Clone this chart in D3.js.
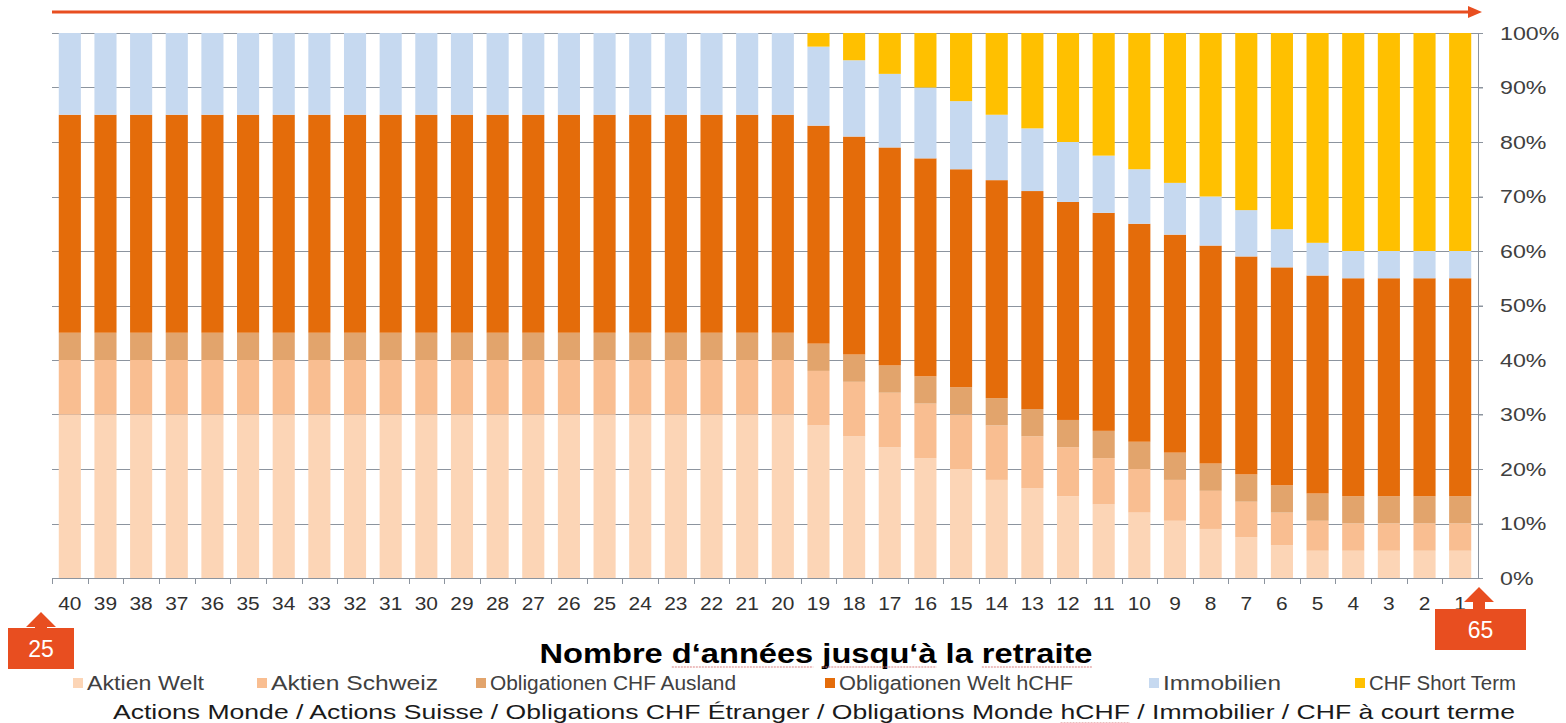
<!DOCTYPE html>
<html>
<head>
<meta charset="utf-8">
<script src="https://cdn.jsdelivr.net/npm/d3@7"></script>
<style>
  html, body { margin: 0; padding: 0; background: #fff; }
  svg { display: block; font-family: "Liberation Sans", Arial, sans-serif; }
</style>
</head>
<body>
<svg width="1566" height="723"></svg>
<script>
// années jusqu'à la retraite (40 -> 1)
const years = [40, 39, 38, 37, 36, 35, 34, 33, 32, 31, 30, 29, 28, 27, 26, 25, 24, 23, 22, 21,
  20, 19, 18, 17, 16, 15, 14, 13, 12, 11, 10, 9, 8, 7, 6, 5, 4, 3, 2, 1];

// parts en %, dans l'ordre des années ci-dessus
const aktienWelt = [30, 30, 30, 30, 30, 30, 30, 30, 30, 30, 30, 30, 30, 30, 30, 30, 30, 30, 30, 30,
  30, 28, 26, 24, 22, 20, 18, 16.5, 15, 13.5, 12, 10.5, 9, 7.5, 6, 5, 5, 5, 5, 5];
const aktienSchweiz = [10, 10, 10, 10, 10, 10, 10, 10, 10, 10, 10, 10, 10, 10, 10, 10, 10, 10, 10, 10,
  10, 10, 10, 10, 10, 10, 10, 9.5, 9, 8.5, 8, 7.5, 7, 6.5, 6, 5.5, 5, 5, 5, 5];
const oblChfAusland = [5, 5, 5, 5, 5, 5, 5, 5, 5, 5, 5, 5, 5, 5, 5, 5, 5, 5, 5, 5,
  5, 5, 5, 5, 5, 5, 5, 5, 5, 5, 5, 5, 5, 5, 5, 5, 5, 5, 5, 5];
const oblWeltHchf = [40, 40, 40, 40, 40, 40, 40, 40, 40, 40, 40, 40, 40, 40, 40, 40, 40, 40, 40, 40,
  40, 40, 40, 40, 40, 40, 40, 40, 40, 40, 40, 40, 40, 40, 40, 40, 40, 40, 40, 40];
const immobilien = [15, 15, 15, 15, 15, 15, 15, 15, 15, 15, 15, 15, 15, 15, 15, 15, 15, 15, 15, 15,
  15, 14.5, 14, 13.5, 13, 12.5, 12, 11.5, 11, 10.5, 10, 9.5, 9, 8.5, 7, 6, 5, 5, 5, 5];
const chfShortTerm = [0, 0, 0, 0, 0, 0, 0, 0, 0, 0, 0, 0, 0, 0, 0, 0, 0, 0, 0, 0,
  0, 2.5, 5, 7.5, 10, 12.5, 15, 17.5, 20, 22.5, 25, 27.5, 30, 32.5, 36, 38.5, 40, 40, 40, 40];

const seriesNames = ['Aktien Welt', 'Aktien Schweiz', 'Obligationen CHF Ausland',
  'Obligationen Welt hCHF', 'Immobilien', 'CHF Short Term'];
const seriesValues = [aktienWelt, aktienSchweiz, oblChfAusland, oblWeltHchf, immobilien, chfShortTerm];
const colors = ['#fcd5b6', '#f9be91', '#e2a46c', '#e46c0a', '#c6d9f0', '#ffc000'];
const yTicks = [0, 10, 20, 30, 40, 50, 60, 70, 80, 90, 100];

const xTitle = 'Nombre d‘années jusqu‘à la retraite';
const subtitle = 'Actions Monde / Actions Suisse / Obligations CHF Étranger / Obligations Monde hCHF / Immobilier / CHF à court terme';
const startAge = '25';
const endAge = '65';

// table pour d3.stack
const table = years.map((yr, i) => {
  const row = { year: yr };
  seriesNames.forEach((n, k) => { row[n] = seriesValues[k][i]; });
  return row;
});

const plotLeft = 52, plotRight = 1478, plotTop = 33, plotBottom = 578;
const svg = d3.select('svg');
const red = '#e84e20';

// le texte de l'original est un peu étiré horizontalement
function stretch(sel, k) {
  sel.each(function () {
    const w = this.getComputedTextLength();
    d3.select(this).attr('textLength', w * k).attr('lengthAdjust', 'spacingAndGlyphs');
  });
}

// souligne un mot (comme le correcteur du document original)
function underline(textSel, word, color) {
  const node = textSel.node();
  const str = node.textContent;
  const i = str.indexOf(word);
  if (i < 0) return;
  const x0 = node.getStartPositionOfChar(i).x;
  const x1 = node.getEndPositionOfChar(i + word.length - 1).x;
  const yb = +textSel.attr('y') + 4;
  svg.append('line')
    .attr('x1', x0).attr('x2', x1).attr('y1', yb).attr('y2', yb)
    .attr('stroke', color).attr('stroke-width', 1.2).attr('stroke-dasharray', '2,1');
}

const x = d3.scaleBand()
  .domain(years)
  .range([plotLeft, plotRight])
  .paddingInner(0.38)
  .paddingOuter(0.19);

const y = d3.scaleLinear().domain([0, 100]).range([plotBottom, plotTop]);

// flèche rouge en haut
svg.append('line')
  .attr('x1', 52).attr('x2', 1470)
  .attr('y1', 12).attr('y2', 12)
  .attr('stroke', red).attr('stroke-width', 3);
svg.append('path')
  .attr('d', 'M1468,6 L1482,12 L1468,18 Z')
  .attr('fill', red);

// lignes de grille
svg.append('g')
  .selectAll('line')
  .data(yTicks.filter(d => d > 0))
  .join('line')
  .attr('x1', plotLeft).attr('x2', plotRight + 5)
  .attr('y1', d => Math.round(y(d)) + 0.5).attr('y2', d => Math.round(y(d)) + 0.5)
  .attr('stroke', '#8c949e').attr('stroke-width', 1);

// barres empilées
const stack = d3.stack().keys(seriesNames)(table);
svg.append('g')
  .selectAll('g')
  .data(stack)
  .join('g')
  .attr('fill', (d, i) => colors[i])
  .selectAll('rect')
  .data(d => d)
  .join('rect')
  .attr('x', d => x(d.data.year))
  .attr('width', x.bandwidth())
  .attr('y', d => y(d[1]))
  .attr('height', d => y(d[0]) - y(d[1]));

// axe Y à droite
const yAxis = svg.append('g')
  .attr('transform', `translate(${plotRight},0)`)
  .call(d3.axisRight(y).tickValues(yTicks).tickFormat(d => d + '%').tickSize(5).tickPadding(17));
yAxis.select('.domain').attr('stroke', '#8c949e').attr('d', `M0.5,${plotTop}V${plotBottom}`);
yAxis.selectAll('.tick line').attr('stroke', '#8c949e');
yAxis.selectAll('text')
  .attr('fill', '#404040')
  .style('font-size', '19px')
  .call(stretch, 1.22);

// axe X
const xAxis = svg.append('g')
  .attr('transform', `translate(0,${plotBottom})`)
  .call(d3.axisBottom(x).tickSize(0).tickPadding(19));
xAxis.select('.domain').attr('stroke', '#8c949e').attr('d', `M${plotLeft},0.5H${plotRight}`);
xAxis.selectAll('text')
  .attr('fill', '#303030')
  .style('font-size', '19px')
  .call(stretch, 1.1);
// petits traits entre les catégories
svg.append('g')
  .selectAll('line')
  .data(years)
  .join('line')
  .attr('x1', d => Math.round(x(d) - x.step() * x.paddingInner() / 2) + 0.5)
  .attr('x2', d => Math.round(x(d) - x.step() * x.paddingInner() / 2) + 0.5)
  .attr('y1', plotBottom).attr('y2', plotBottom + 6)
  .attr('stroke', '#8c949e');

// encadrés 25 / 65 avec flèches
function ageBox(tipX, tipY, bx, by, bw, bh, label) {
  const g = svg.append('g').attr('fill', red);
  g.append('path')
    .attr('d', `M${tipX},${tipY} L${tipX + 15},${tipY + 15} L${tipX + 6},${tipY + 15} L${tipX + 6},${by}
      L${tipX - 6},${by} L${tipX - 6},${tipY + 15} L${tipX - 15},${tipY + 15} Z`);
  g.append('rect').attr('x', bx).attr('y', by).attr('width', bw).attr('height', bh);
  g.append('text')
    .attr('x', bx + bw / 2).attr('y', by + bh / 2 + 8)
    .attr('text-anchor', 'middle')
    .attr('fill', '#fff')
    .style('font-size', '23px')
    .text(label);
}
ageBox(41, 612, 8, 628, 66, 41, startAge);
ageBox(plotRight + 1, 587, 1435, 609, 91, 41, endAge);

// titre de l'axe X
const title = svg.append('text')
  .attr('x', 816).attr('y', 663)
  .attr('text-anchor', 'middle')
  .attr('fill', '#000')
  .style('font-size', '27px')
  .style('font-weight', 'bold')
  .attr('textLength', 553)
  .attr('lengthAdjust', 'spacingAndGlyphs')
  .text(xTitle);
['d‘années', 'jusqu‘à', 'retraite'].forEach(w => underline(title, w, '#d98080'));

// légende
const legendX = [73, 257, 476, 825, 1149, 1355];
const legendW = [117, 167, 246, 234, 118, 147];
const legend = svg.append('g')
  .selectAll('g')
  .data(seriesNames)
  .join('g')
  .attr('transform', (d, i) => `translate(${legendX[i]},683)`);
legend.append('rect')
  .attr('x', 0).attr('y', -5)
  .attr('width', 10).attr('height', 10)
  .attr('fill', (d, i) => colors[i]);
legend.append('text')
  .attr('x', 14).attr('y', 7)
  .attr('fill', '#404040')
  .style('font-size', '19.5px')
  .attr('textLength', (d, i) => legendW[i])
  .attr('lengthAdjust', 'spacingAndGlyphs')
  .text(d => d);

// sous-titre en français
const sub = svg.append('text')
  .attr('x', 814).attr('y', 719)
  .attr('text-anchor', 'middle')
  .attr('fill', '#1a1a1a')
  .style('font-size', '21px')
  .attr('textLength', 1402)
  .attr('lengthAdjust', 'spacingAndGlyphs')
  .text(subtitle);
underline(sub, 'hCHF', '#d98080');
</script>
</body>
</html>
